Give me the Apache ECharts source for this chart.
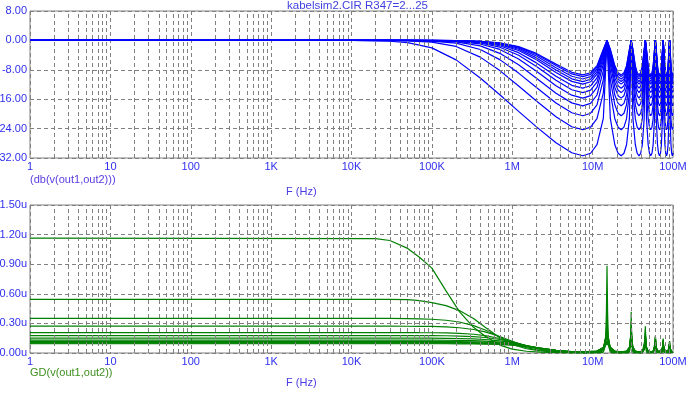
<!DOCTYPE html>
<html>
<head>
<meta charset="utf-8">
<script src="https://cdn.jsdelivr.net/npm/echarts@6/dist/echarts.min.js"></script>
<style>
html,body{margin:0;padding:0;background:#fff;}
#c{width:689px;height:395px;}
</style>
</head>
<body>
<div id="c"></div>
<script>
// ---------- data ----------
const rValues = ['2','4','6','8','10','12','14','16','18','20','22','24'];
const xTickLabels = ['1','10','100','1K','10K','100K','1M','10M','100M'];
const dbTicks = [-32, 8, 8];      // min, max, step
const gdTicks = [0, 1.5, 0.3];    // min, max, step (µs)

const topFreq = [1,1e4,3e4,5e4,1e5,2e5,4e5,7e5,1.2e6,2e6,3.5e6,5.5e6,
 7.55e6,9.44e6,11.33e6,13.59e6,
 15.1e6,16.61e6,18.88e6,20.76e6,22.65e6,24.54e6,26.43e6,28.69e6,
 30.2e6,31.71e6,33.98e6,35.86e6,37.75e6,39.64e6,41.53e6,43.79e6,
 45.3e6,46.81e6,49.08e6,50.96e6,52.85e6,54.74e6,56.63e6,58.89e6,
 60.4e6,61.91e6,64.18e6,66.06e6,67.95e6,69.84e6,71.73e6,73.99e6,
 75.5e6,77.01e6,79.28e6,81.16e6,83.05e6,84.94e6,86.83e6,89.09e6,
 90.6e6,92.11e6,94.38e6,96.26e6,98.15e6,100e6];

const db1 = [0,-0.03,-0.23,-0.6,-2.03,-5.3,-10.22,-14.77,-19.3,-23.54,-27.87,-30.58,
 -31.4,-30.71,-28.39,-21.23,
 0,-21.23,-28.39,-30.71,-31.4,-30.71,-28.39,-21.23,
 0,-21.23,-28.39,-30.71,-31.4,-30.71,-28.39,-21.23,
 0,-21.23,-28.39,-30.71,-31.4,-30.71,-28.39,-21.23,
 0,-21.23,-28.39,-30.71,-31.4,-30.71,-28.39,-21.23,
 0,-21.23,-28.39,-30.71,-31.4,-30.71,-28.39,-21.23,
 0,-21.23,-28.39,-30.71,-31.4,-30.71];
const db2 = [0,0,-0.05,-0.12,-0.48,-1.65,-4.55,-8.22,-12.39,-16.5,-20.78,-23.49,
 -24.3,-23.61,-21.3,-14.25,
 0,-14.25,-21.3,-23.61,-24.3,-23.61,-21.3,-14.25,
 0,-14.25,-21.3,-23.61,-24.3,-23.61,-21.3,-14.25,
 0,-14.25,-21.3,-23.61,-24.3,-23.61,-21.3,-14.25,
 0,-14.25,-21.3,-23.61,-24.3,-23.61,-21.3,-14.25,
 0,-14.25,-21.3,-23.61,-24.3,-23.61,-21.3,-14.25,
 0,-14.25,-21.3,-23.61,-24.3,-23.61];
const db3 = [0,0,-0.02,-0.05,-0.21,-0.76,-2.47,-5.23,-8.9,-12.81,-17.01,-19.69,
 -20.5,-19.81,-17.52,-10.65,
 0,-10.65,-17.52,-19.81,-20.5,-19.81,-17.52,-10.65,
 0,-10.65,-17.52,-19.81,-20.5,-19.81,-17.52,-10.65,
 0,-10.65,-17.52,-19.81,-20.5,-19.81,-17.52,-10.65,
 0,-10.65,-17.52,-19.81,-20.5,-19.81,-17.52,-10.65,
 0,-10.65,-17.52,-19.81,-20.5,-19.81,-17.52,-10.65,
 0,-10.65,-17.52,-19.81,-20.5,-19.81];
const db4 = [0,0,-0.01,-0.03,-0.11,-0.42,-1.49,-3.52,-6.64,-10.28,-14.36,-17.0,
 -17.8,-17.13,-14.86,-8.24,
 0,-8.24,-14.86,-17.13,-17.8,-17.13,-14.86,-8.24,
 0,-8.24,-14.86,-17.13,-17.8,-17.13,-14.86,-8.24,
 0,-8.24,-14.86,-17.13,-17.8,-17.13,-14.86,-8.24,
 0,-8.24,-14.86,-17.13,-17.8,-17.13,-14.86,-8.24,
 0,-8.24,-14.86,-17.13,-17.8,-17.13,-14.86,-8.24,
 0,-8.24,-14.86,-17.13,-17.8,-17.13];
const db5 = [0,0,0,-0.02,-0.07,-0.26,-0.97,-2.46,-5.06,-8.39,-12.32,-14.91,
 -15.7,-15.04,-12.81,-6.49,
 0,-6.49,-12.81,-15.04,-15.7,-15.04,-12.81,-6.49,
 0,-6.49,-12.81,-15.04,-15.7,-15.04,-12.81,-6.49,
 0,-6.49,-12.81,-15.04,-15.7,-15.04,-12.81,-6.49,
 0,-6.49,-12.81,-15.04,-15.7,-15.04,-12.81,-6.49,
 0,-6.49,-12.81,-15.04,-15.7,-15.04,-12.81,-6.49,
 0,-6.49,-12.81,-15.04,-15.7,-15.04];
const db6 = [0,0,0,-0.01,-0.05,-0.19,-0.7,-1.85,-4.05,-7.1,-10.87,-13.42,
 -14.2,-13.54,-11.35,-5.34,
 0,-5.34,-11.35,-13.54,-14.2,-13.54,-11.35,-5.34,
 0,-5.34,-11.35,-13.54,-14.2,-13.54,-11.35,-5.34,
 0,-5.34,-11.35,-13.54,-14.2,-13.54,-11.35,-5.34,
 0,-5.34,-11.35,-13.54,-14.2,-13.54,-11.35,-5.34,
 0,-5.34,-11.35,-13.54,-14.2,-13.54,-11.35,-5.34,
 0,-5.34,-11.35,-13.54,-14.2,-13.54];
const db7 = [0,0,0,-0.01,-0.04,-0.14,-0.53,-1.46,-3.34,-6.12,-9.73,-12.23,
 -13.0,-12.35,-10.2,-4.49,
 0,-4.49,-10.2,-12.35,-13.0,-12.35,-10.2,-4.49,
 0,-4.49,-10.2,-12.35,-13.0,-12.35,-10.2,-4.49,
 0,-4.49,-10.2,-12.35,-13.0,-12.35,-10.2,-4.49,
 0,-4.49,-10.2,-12.35,-13.0,-12.35,-10.2,-4.49,
 0,-4.49,-10.2,-12.35,-13.0,-12.35,-10.2,-4.49,
 0,-4.49,-10.2,-12.35,-13.0,-12.35];
const db8 = [0,0,0,0,-0.03,-0.11,-0.41,-1.16,-2.75,-5.27,-8.71,-11.15,
 -11.9,-11.26,-9.16,-3.78,
 0,-3.78,-9.16,-11.26,-11.9,-11.26,-9.16,-3.78,
 0,-3.78,-9.16,-11.26,-11.9,-11.26,-9.16,-3.78,
 0,-3.78,-9.16,-11.26,-11.9,-11.26,-9.16,-3.78,
 0,-3.78,-9.16,-11.26,-11.9,-11.26,-9.16,-3.78,
 0,-3.78,-9.16,-11.26,-11.9,-11.26,-9.16,-3.78,
 0,-3.78,-9.16,-11.26,-11.9,-11.26];
const db9 = [0,0,0,0,-0.02,-0.09,-0.35,-0.99,-2.42,-4.76,-8.07,-10.46,
 -11.2,-10.57,-8.51,-3.35,
 0,-3.35,-8.51,-10.57,-11.2,-10.57,-8.51,-3.35,
 0,-3.35,-8.51,-10.57,-11.2,-10.57,-8.51,-3.35,
 0,-3.35,-8.51,-10.57,-11.2,-10.57,-8.51,-3.35,
 0,-3.35,-8.51,-10.57,-11.2,-10.57,-8.51,-3.35,
 0,-3.35,-8.51,-10.57,-11.2,-10.57,-8.51,-3.35,
 0,-3.35,-8.51,-10.57,-11.2,-10.57];
const db10 = [0,0,0,0,-0.02,-0.08,-0.3,-0.84,-2.1,-4.26,-7.42,-9.76,
 -10.5,-9.87,-7.85,-2.95,
 0,-2.95,-7.85,-9.87,-10.5,-9.87,-7.85,-2.95,
 0,-2.95,-7.85,-9.87,-10.5,-9.87,-7.85,-2.95,
 0,-2.95,-7.85,-9.87,-10.5,-9.87,-7.85,-2.95,
 0,-2.95,-7.85,-9.87,-10.5,-9.87,-7.85,-2.95,
 0,-2.95,-7.85,-9.87,-10.5,-9.87,-7.85,-2.95,
 0,-2.95,-7.85,-9.87,-10.5,-9.87];
const db11 = [0,0,0,0,-0.02,-0.07,-0.25,-0.73,-1.84,-3.83,-6.85,-9.13,
 -9.85,-9.24,-7.27,-2.62,
 0,-2.62,-7.27,-9.24,-9.85,-9.24,-7.27,-2.62,
 0,-2.62,-7.27,-9.24,-9.85,-9.24,-7.27,-2.62,
 0,-2.62,-7.27,-9.24,-9.85,-9.24,-7.27,-2.62,
 0,-2.62,-7.27,-9.24,-9.85,-9.24,-7.27,-2.62,
 0,-2.62,-7.27,-9.24,-9.85,-9.24,-7.27,-2.62,
 0,-2.62,-7.27,-9.24,-9.85,-9.24];
const db12 = [0,0,0,0,-0.01,-0.06,-0.23,-0.65,-1.67,-3.54,-6.45,-8.69,
 -9.4,-8.8,-6.86,-2.4,
 0,-2.4,-6.86,-8.8,-9.4,-8.8,-6.86,-2.4,
 0,-2.4,-6.86,-8.8,-9.4,-8.8,-6.86,-2.4,
 0,-2.4,-6.86,-8.8,-9.4,-8.8,-6.86,-2.4,
 0,-2.4,-6.86,-8.8,-9.4,-8.8,-6.86,-2.4,
 0,-2.4,-6.86,-8.8,-9.4,-8.8,-6.86,-2.4,
 0,-2.4,-6.86,-8.8,-9.4,-8.8];

const gdFreq = [1,2e4,3e4,5e4,7e4,1e5,1.5e5,2.2e5,3.3e5,4.6e5,7e5,1e6,1.5e6,2.2e6,3.5e6,5.5e6,7.55e6,
 11.33e6,13.59e6,14.65e6,15.1e6,15.55e6,16.61e6,18.88e6,22.65e6,
 26.43e6,28.69e6,29.75e6,30.2e6,30.65e6,31.71e6,33.98e6,37.75e6,
 41.53e6,43.79e6,44.85e6,45.3e6,45.75e6,46.81e6,49.08e6,52.85e6,
 56.63e6,58.89e6,59.95e6,60.4e6,60.85e6,61.91e6,64.18e6,67.95e6,
 71.73e6,73.99e6,75.05e6,75.5e6,75.95e6,77.01e6,79.28e6,83.05e6,
 86.83e6,89.09e6,90.15e6,90.6e6,91.05e6,92.11e6,94.38e6,98.15e6,100e6];

const gd1 = [1.164,1.16,1.14,1.06,0.97,0.86,0.63,0.42,0.26,0.17,0.08,0.04,0.018,0.009,0.004,0.002,0.0008,
 0.0017,0.0088,0.088,0.885,0.088,0.0088,0.0017,0.0008,
 0.0017,0.0088,0.088,0.417,0.088,0.0088,0.0017,0.0008,
 0.0017,0.0088,0.088,0.27,0.088,0.0088,0.0017,0.0008,
 0.0017,0.0088,0.08,0.18,0.08,0.0088,0.0017,0.0008,
 0.0017,0.0088,0.07,0.146,0.07,0.0088,0.0017,0.0008,
 0.0017,0.0088,0.06,0.122,0.06,0.0088,0.0017,0.0008,0.0008];
const gd2 = [0.543,0.543,0.543,0.54,0.53,0.51,0.48,0.43,0.35,0.26,0.155,0.088,0.043,0.021,0.009,0.004,0.002,
 0.004,0.0204,0.161,0.54,0.161,0.0204,0.004,0.002,
 0.004,0.0204,0.161,0.32,0.161,0.0204,0.004,0.002,
 0.004,0.0204,0.14,0.24,0.14,0.0204,0.004,0.002,
 0.004,0.0204,0.12,0.17,0.12,0.0204,0.004,0.002,
 0.004,0.0204,0.10,0.14,0.10,0.0204,0.004,0.002,
 0.004,0.0204,0.09,0.12,0.09,0.0204,0.004,0.002,0.002];
const gd3 = [0.35,0.35,0.35,0.348,0.346,0.342,0.332,0.314,0.278,0.233,0.162,0.104,0.055,0.028,0.012,0.005,0.003,
 0.0062,0.03,0.176,0.35,0.176,0.03,0.0062,0.0031,
 0.0062,0.03,0.176,0.25,0.176,0.03,0.0062,0.0031,
 0.0062,0.03,0.15,0.21,0.15,0.03,0.0062,0.0031,
 0.0062,0.03,0.12,0.16,0.12,0.03,0.0062,0.0031,
 0.0062,0.03,0.10,0.13,0.10,0.03,0.0062,0.0031,
 0.0062,0.03,0.09,0.115,0.09,0.03,0.0062,0.0031,0.0031];
const gd4 = [0.272,0.272,0.272,0.271,0.27,0.269,0.264,0.256,0.238,0.214,0.167,0.119,0.07,0.038,0.016,0.007,0.0045,
 0.0089,0.041,0.178,0.272,0.178,0.041,0.0089,0.0045,
 0.0089,0.041,0.178,0.22,0.178,0.041,0.0089,0.0045,
 0.0089,0.041,0.15,0.19,0.15,0.041,0.0089,0.0045,
 0.0089,0.041,0.12,0.15,0.12,0.041,0.0089,0.0045,
 0.0089,0.041,0.10,0.125,0.10,0.041,0.0089,0.0045,
 0.0089,0.041,0.09,0.11,0.09,0.041,0.0089,0.0045,0.0045];
const gd5 = [0.207,0.207,0.207,0.207,0.206,0.205,0.203,0.199,0.19,0.176,0.147,0.113,0.072,0.041,0.019,0.008,0.0056,
 0.0108,0.046,0.157,0.207,0.157,0.046,0.0108,0.0056,
 0.0108,0.046,0.157,0.19,0.157,0.046,0.0108,0.0056,
 0.0108,0.046,0.14,0.17,0.14,0.046,0.0108,0.0056,
 0.0108,0.046,0.11,0.14,0.11,0.046,0.0108,0.0056,
 0.0108,0.046,0.10,0.12,0.10,0.046,0.0108,0.0056,
 0.0108,0.046,0.088,0.105,0.088,0.046,0.0108,0.0056,0.0056];
const gd6 = [0.177,0.177,0.177,0.177,0.177,0.176,0.175,0.172,0.166,0.157,0.137,0.111,0.076,0.046,0.022,0.009,0.0067,
 0.013,0.052,0.145,0.177,0.145,0.052,0.013,0.0067,
 0.013,0.052,0.145,0.165,0.145,0.052,0.013,0.0067,
 0.013,0.052,0.13,0.155,0.13,0.052,0.013,0.0067,
 0.013,0.052,0.11,0.13,0.11,0.052,0.013,0.0067,
 0.013,0.052,0.095,0.115,0.095,0.052,0.013,0.0067,
 0.013,0.052,0.085,0.10,0.085,0.052,0.013,0.0067,0.0067];
const gd7 = [0.15,0.15,0.15,0.15,0.15,0.15,0.149,0.147,0.143,0.137,0.123,0.104,0.075,0.048,0.023,0.01,0.0075,
 0.0143,0.053,0.128,0.15,0.128,0.053,0.0143,0.0075,
 0.0143,0.053,0.128,0.145,0.128,0.053,0.0143,0.0075,
 0.0143,0.053,0.12,0.14,0.12,0.053,0.0143,0.0075,
 0.0143,0.053,0.10,0.12,0.10,0.053,0.0143,0.0075,
 0.0143,0.053,0.09,0.11,0.09,0.053,0.0143,0.0075,
 0.0143,0.053,0.082,0.098,0.082,0.053,0.0143,0.0075,0.0075];
const gd8 = [0.13,0.13,0.13,0.13,0.13,0.13,0.129,0.128,0.125,0.121,0.111,0.097,0.073,0.049,0.025,0.011,0.0084,
 0.0157,0.054,0.115,0.13,0.115,0.054,0.0157,0.0084,
 0.0157,0.054,0.115,0.127,0.115,0.054,0.0157,0.0084,
 0.0157,0.054,0.11,0.125,0.11,0.054,0.0157,0.0084,
 0.0157,0.054,0.095,0.115,0.095,0.054,0.0157,0.0084,
 0.0157,0.054,0.088,0.105,0.088,0.054,0.0157,0.0084,
 0.0157,0.054,0.08,0.095,0.08,0.054,0.0157,0.0084,0.0084];
const gd9 = [0.118,0.118,0.118,0.118,0.118,0.118,0.117,0.116,0.114,0.111,0.103,0.091,0.071,0.049,0.026,0.012,0.0089,
 0.0166,0.055,0.106,0.118,0.106,0.055,0.0166,0.0089,
 0.0166,0.055,0.106,0.116,0.106,0.055,0.0166,0.0089,
 0.0166,0.055,0.10,0.114,0.10,0.055,0.0166,0.0089,
 0.0166,0.055,0.09,0.108,0.09,0.055,0.0166,0.0089,
 0.0166,0.055,0.085,0.10,0.085,0.055,0.0166,0.0089,
 0.0166,0.055,0.078,0.092,0.078,0.055,0.0166,0.0089,0.0089];
const gd10 = [0.108,0.108,0.108,0.108,0.108,0.108,0.107,0.106,0.105,0.103,0.096,0.086,0.069,0.049,0.027,0.0126,0.0096,
 0.0177,0.055,0.099,0.108,0.099,0.055,0.0177,0.0096,
 0.0177,0.055,0.099,0.106,0.099,0.055,0.0177,0.0096,
 0.0177,0.055,0.095,0.105,0.095,0.055,0.0177,0.0096,
 0.0177,0.055,0.088,0.10,0.088,0.055,0.0177,0.0096,
 0.0177,0.055,0.082,0.096,0.082,0.055,0.0177,0.0096,
 0.0177,0.055,0.076,0.09,0.076,0.055,0.0177,0.0096,0.0096];
const gd11 = [0.1,0.1,0.1,0.1,0.1,0.1,0.099,0.099,0.098,0.096,0.09,0.082,0.067,0.049,0.027,0.0133,0.0104,
 0.0188,0.055,0.093,0.10,0.093,0.055,0.0188,0.0104,
 0.0188,0.055,0.093,0.098,0.093,0.055,0.0188,0.0104,
 0.0188,0.055,0.09,0.097,0.09,0.055,0.0188,0.0104,
 0.0188,0.055,0.085,0.095,0.085,0.055,0.0188,0.0104,
 0.0188,0.055,0.08,0.092,0.08,0.055,0.0188,0.0104,
 0.0188,0.055,0.074,0.088,0.074,0.055,0.0188,0.0104,0.0104];
const gd12 = [0.094,0.094,0.094,0.094,0.094,0.094,0.094,0.093,0.092,0.09,0.086,0.079,0.065,0.048,0.028,0.0137,0.0108,
 0.0194,0.054,0.088,0.094,0.088,0.054,0.0194,0.0108,
 0.0194,0.054,0.088,0.093,0.088,0.054,0.0194,0.0108,
 0.0194,0.054,0.086,0.092,0.086,0.054,0.0194,0.0108,
 0.0194,0.054,0.082,0.09,0.082,0.054,0.0194,0.0108,
 0.0194,0.054,0.078,0.088,0.078,0.054,0.0194,0.0108,
 0.0194,0.054,0.072,0.085,0.072,0.054,0.0194,0.0108,0.0108];

const dbCurves = [db1,db2,db3,db4,db5,db6,db7,db8,db9,db10,db11,db12];
const gdCurves = [gd1,gd2,gd3,gd4,gd5,gd6,gd7,gd8,gd9,gd10,gd11,gd12];

// ---------- chart ----------
const FONT = '"Liberation Sans", Arial, sans-serif';
const LABEL_BLUE = '#3030f0';
const GRID_GRAY = '#808080';
const DASH = [4, 3];

const minorX = [];
for (let e = 0; e < 8; e++) for (let m = 2; m <= 9; m++) minorX.push({xAxis: m * Math.pow(10, e)});

function xAxisDef(gi) {
  return {
    type: 'log', logBase: 10, min: 1, max: 1e8, splitNumber: 8, gridIndex: gi,
    axisLine: {show: false}, axisTick: {show: false},
    axisLabel: {
      color: LABEL_BLUE, fontFamily: FONT, fontSize: 11, margin: 3,
      formatter: v => xTickLabels[Math.round(Math.log10(v))]
    },
    splitLine: {show: true, lineStyle: {color: GRID_GRAY, type: DASH, width: 1}}
  };
}
function yAxisDef(gi, ticks, fmt) {
  return {
    type: 'value', gridIndex: gi, min: ticks[0], max: ticks[1], interval: ticks[2],
    axisLine: {show: false}, axisTick: {show: false},
    axisLabel: {color: LABEL_BLUE, fontFamily: FONT, fontSize: 11, margin: 3, formatter: fmt},
    splitLine: {show: true, lineStyle: {color: GRID_GRAY, type: DASH, width: 1}}
  };
}

const series = [];
[0, 1].forEach(gi => {
  series.push({
    type: 'line', xAxisIndex: gi, yAxisIndex: gi, data: [], silent: true, z: 1,
    markLine: {
      silent: true, symbol: 'none', animation: false,
      label: {show: false},
      lineStyle: {color: GRID_GRAY, type: DASH, width: 1},
      data: minorX
    }
  });
});
dbCurves.forEach((arr, i) => {
  series.push({
    name: 'R347=' + rValues[i], type: 'line', xAxisIndex: 0, yAxisIndex: 0, z: 3,
    showSymbol: false, symbol: 'none', clip: true,
    lineStyle: {color: '#0000ff', width: 1.2},
    data: topFreq.map((f, j) => [f, arr[j]])
  });
});
gdCurves.forEach((arr, i) => {
  series.push({
    name: 'R347=' + rValues[i], type: 'line', xAxisIndex: 1, yAxisIndex: 1, z: 3,
    showSymbol: false, symbol: 'none', clip: true,
    lineStyle: {color: '#008000', width: 1.2},
    data: gdFreq.map((f, j) => [f, arr[j]])
  });
});

const chart = echarts.init(document.getElementById('c'), null, {renderer: 'canvas'});
chart.setOption({
  animation: false,
  backgroundColor: '#ffffff',
  grid: [
    {left: 30, right: 16, top: 11, height: 147, show: true, borderColor: GRID_GRAY, borderWidth: 1, backgroundColor: 'transparent', outerBoundsMode: 'none', containLabel: false},
    {left: 30, right: 16, top: 205, height: 148, show: true, borderColor: GRID_GRAY, borderWidth: 1, backgroundColor: 'transparent', outerBoundsMode: 'none', containLabel: false}
  ],
  xAxis: [xAxisDef(0), xAxisDef(1)],
  yAxis: [
    yAxisDef(0, dbTicks, v => v.toFixed(2)),
    yAxisDef(1, gdTicks, v => v.toFixed(2) + 'u')
  ],
  graphic: [
    {type: 'text', left: 287, top: 0, style: {text: 'kabelsim2.CIR R347=2...25', fill: '#4040e0', font: '11.5px ' + FONT}},
    {type: 'text', left: 30, top: 174, style: {text: '(db(v(out1,out2)))', fill: '#5a3ce0', font: '11px ' + FONT}},
    {type: 'text', left: 286, top: 186, style: {text: 'F (Hz)', fill: '#4a3ce0', font: '11px ' + FONT}},
    {type: 'text', left: 30, top: 367, style: {text: 'GD(v(out1,out2))', fill: '#3f8f1f', font: '11px ' + FONT}},
    {type: 'text', left: 286, top: 377, style: {text: 'F (Hz)', fill: '#4a3ce0', font: '11px ' + FONT}}
  ],
  series: series
});
</script>
</body>
</html>
